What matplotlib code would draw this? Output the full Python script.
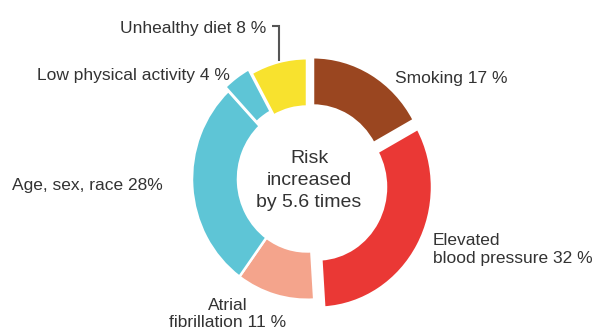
import numpy as np
import matplotlib
matplotlib.use("Agg")
import matplotlib.pyplot as plt
from matplotlib.lines import Line2D

plt.rcParams['font.family'] = ['Liberation Sans', 'DejaVu Sans']

# ---- Data ----
labels = ['Smoking', 'Elevated blood pressure', 'Atrial fibrillation',
          'Age, sex, race', 'Low physical activity', 'Unhealthy diet']
shares = [17, 32, 11, 28, 4, 8]
colors = ['#9a4620', '#ea3835', '#f4a48c', '#5ec5d6', '#5ec5d6', '#f8e22e']

center_lines = ['Risk', 'increased', 'by 5.6 times']

# ---- Figure ----
W, H = 600, 330
k = 1.05          # the original ring is a little taller than wide
fig = plt.figure(figsize=(6, 3.3), dpi=100)
ax = fig.add_axes([0, 0, 1, 1])

cx, cy = 307, (H - 179) / k
R, width = 115, 46

wedges, _ = ax.pie(shares, colors=colors, startangle=90, counterclock=False,
                   radius=R, center=(cx, cy), frame=True,
                   wedgeprops=dict(width=width, edgecolor='white', linewidth=1.8))
ax.set_aspect('auto')
ax.set_xlim(0, W)
ax.set_ylim(0, H / k)
ax.axis('off')

# pulled-out segments (pixel offsets, y up)
offsets = [(6, 1), (10, -8), (0, 0), (0, 0), (-3, 4), (0, 0)]
for w, (dx, dy) in zip(wedges, offsets):
    w.set_center((cx + dx, cy + dy / k))

txt = '#333333'
fs = 12.5

def put(x, y, s, ha='left', size=fs):
    fig.text(x / W, 1 - y / H, s, ha=ha, va='baseline', fontsize=size, color=txt)

# center text
for line, yb in zip(center_lines, [163, 185, 207]):
    put(cx + 2, yb, line, ha='center', size=14)

# labels
put(395, 83, 'Smoking 17 %')
put(433, 245, 'Elevated')
put(433, 263, 'blood pressure 32 %')
put(228, 310, 'Atrial', ha='center')
put(228, 327, 'fibrillation 11 %', ha='center')
put(163, 190, 'Age, sex, race 28%', ha='right')
put(230, 80, 'Low physical activity 4 %', ha='right')
put(266, 33, 'Unhealthy diet 8 %', ha='right')

# leader line for unhealthy diet
lx = np.array([272, 279, 279]) / W
ly = 1 - np.array([26, 26, 61]) / H
fig.add_artist(Line2D(lx, ly, transform=fig.transFigure, color='#555555', lw=1.5,
                      solid_capstyle='butt', solid_joinstyle='miter'))

fig.savefig('out.png', dpi=100)
